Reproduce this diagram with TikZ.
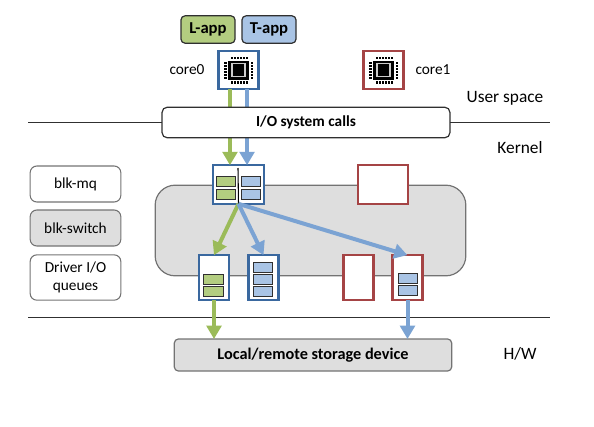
\documentclass[tikz,border=0pt]{standalone}
\usepackage{fontspec}
\setmainfont{Carlito}
\usetikzlibrary{arrows.meta}
\definecolor{AppGreen}{HTML}{B3CD80}
\definecolor{AppBlue}{HTML}{A9C4E5}
\definecolor{GoGreen}{HTML}{9BBB59}
\definecolor{GoBlue}{HTML}{7BA3D3}
\definecolor{CoreBlue}{HTML}{3A689F}
\definecolor{CoreRed}{HTML}{A54445}
\definecolor{LayerGray}{HTML}{DEDEDE}
\definecolor{EdgeGray}{HTML}{737373}
\definecolor{RuleDark}{HTML}{303030}

\begin{document}
\begin{tikzpicture}[x=0.75pt,y=-0.75pt,
      every node/.style={outer sep=0pt,inner sep=0pt,text=black,font=\fontsize{11.5}{13.5}\selectfont},
      app/.style={draw=RuleDark,line width=0.9pt,rounded corners=3pt,minimum width=40.5pt,minimum height=20.5pt,text height=8pt,text depth=2pt,font=\fontsize{12.5}{14.5}\selectfont\bfseries},
      corebox/.style={fill=white,line width=1.7pt,minimum width=30pt,minimum height=28pt},
      qbox/.style={draw=CoreBlue,fill=white,line width=1.7pt,minimum width=38pt,minimum height=29pt},
      hwq/.style={draw=CoreBlue,fill=white,line width=1.7pt,minimum width=22.5pt,minimum height=33.5pt},
      slot/.style={draw=RuleDark,line width=0.7pt,minimum width=14.5pt,minimum height=7.5pt},
      legend/.style={draw=EdgeGray,line width=0.8pt,rounded corners=5pt,minimum width=68pt,align=center},
      lbl/.style={font=\fontsize{13}{15}\selectfont},
      go/.style={-{Triangle[length=10pt,width=11pt]},line width=3pt},
      rule/.style={RuleDark,line width=0.7pt},
      chip/.pic={
        \fill[black] (-10.5,-9.5) rectangle (10.5,9.5);
        \draw[white!80!black,line width=0.9pt,fill=black] (-6.5,-6.5) rectangle (6.5,6.5);
        \foreach \i in {-8,-5,-2,1,4,7}{
          \fill[black] (\i,-13.5) rectangle (\i+2,-11);
          \fill[black] (\i,11) rectangle (\i+2,13.5);
          \fill[black] (-14.5,\i) rectangle (-12,\i+2);
          \fill[black] (12,\i) rectangle (14.5,\i+2);
        }
      }]
    \useasboundingbox (0,0) rectangle (594,426);
    \coordinate (userl) at (28,122.5);
    \coordinate (userr) at (550,122.5);
    \coordinate (hwl) at (28,317);
    \coordinate (hwr) at (550,317);
    \draw[rule] (hwl) -- (hwr);

    \node[app,fill=AppGreen] (lapp) at (208,29.5) {L-app};
    \node[app,fill=AppBlue] (tapp) at (269,29.5) {T-app};
    \node[corebox,draw=CoreBlue] (core0) at (238.5,70) {};
    \node[corebox,draw=CoreRed] (core1) at (383.5,70) {};
    \pic at (core0.center) {chip};
    \pic at (core1.center) {chip};
    \node (core0txt) at (187,70) {core0};
    \node (core1txt) at (433,70) {core1};

    \node[legend,minimum height=27pt] (blkmq) at (75.5,184) {blk-mq};
    \node[legend,fill=LayerGray,minimum height=27pt] (blksw) at (75.5,228) {blk-switch};
    \node[legend,minimum height=34pt] (drvq) at (75.5,277.5) {Driver I/O\\queues};

    \node[draw=EdgeGray,fill=LayerGray,line width=0.9pt,rounded corners=15pt,minimum width=233pt,minimum height=68pt] (blkswitch) at (310.5,230.5) {};

    % per-core software queues
    \node[qbox] (swq0) at (238.5,184.5) {};
    \node[qbox,draw=CoreRed] (swq1) at (383,184.5) {};
    \draw[black,line width=0.8pt] (238,168) -- (swq0.south);
    \node[slot,fill=AppGreen] (sg1) at (226,181) {};
    \node[slot,fill=AppGreen] (sg2) at (226,194) {};
    \node[slot,fill=AppBlue] (sb1) at (251,181) {};
    \node[slot,fill=AppBlue] (sb2) at (251,194) {};

    % driver queues
    \node[hwq] (hwq0) at (214,277.5) {};
    \node[hwq] (hwq1) at (263.5,277.5) {};
    \node[hwq,draw=CoreRed] (hwq2) at (358.5,277.5) {};
    \node[hwq,draw=CoreRed] (hwq3) at (407.5,277.5) {};
    \foreach \y/\n in {279/1,291/2}
      \node[slot,fill=AppGreen] (qg\n) at (213.5,\y) {};
    \foreach \y/\n in {267/1,279/2,291/3}
      \node[slot,fill=AppBlue] (qb\n) at (263,\y) {};
    \foreach \y/\n in {278/1,290/2}
      \node[slot,fill=AppBlue] (qr\n) at (408,\y) {};

    \node[draw=EdgeGray,fill=LayerGray,line width=0.9pt,rounded corners=3pt,minimum width=208pt,minimum height=24pt,text height=8pt,text depth=2pt,font=\fontsize{12.2}{14}\selectfont\bfseries] (storage) at (313,355) {Local/remote storage device};

    \draw[go,GoGreen] ([xshift=-6.4pt]core0.south) -- ([xshift=-6.4pt]swq0.north);
    \draw[go,GoBlue] ([xshift=6.4pt]core0.south) -- ([xshift=6.4pt]swq0.north);
    \draw[go,GoGreen] (swq0.south) -- (hwq0.north);
    \draw[go,GoBlue] (swq0.south) -- (hwq1.north);
    \draw[go,GoBlue] (swq0.south) -- (hwq3.north);
    \draw[go,GoGreen] (hwq0.south) -- (hwq0.south |- storage.north);
    \draw[go,GoBlue] (hwq3.south) -- (hwq3.south |- storage.north);

    \node[draw=RuleDark,fill=white,line width=0.9pt,rounded corners=4pt,minimum width=216pt,minimum height=23pt,text height=8pt,text depth=2pt,font=\fontsize{11.5}{13.5}\selectfont\bfseries] (iosys) at (306,122.5) {I/O system calls};
    \draw[rule] (userl) -- (iosys);
    \draw[rule] (iosys) -- (userr);

    \node[lbl] (usertxt) at (505,98) {User space};
    \node[lbl] (kerntxt) at (520,148) {Kernel};
    \node[lbl] (hwtxt) at (520,354) {H/W};
  \end{tikzpicture}
\end{document}
